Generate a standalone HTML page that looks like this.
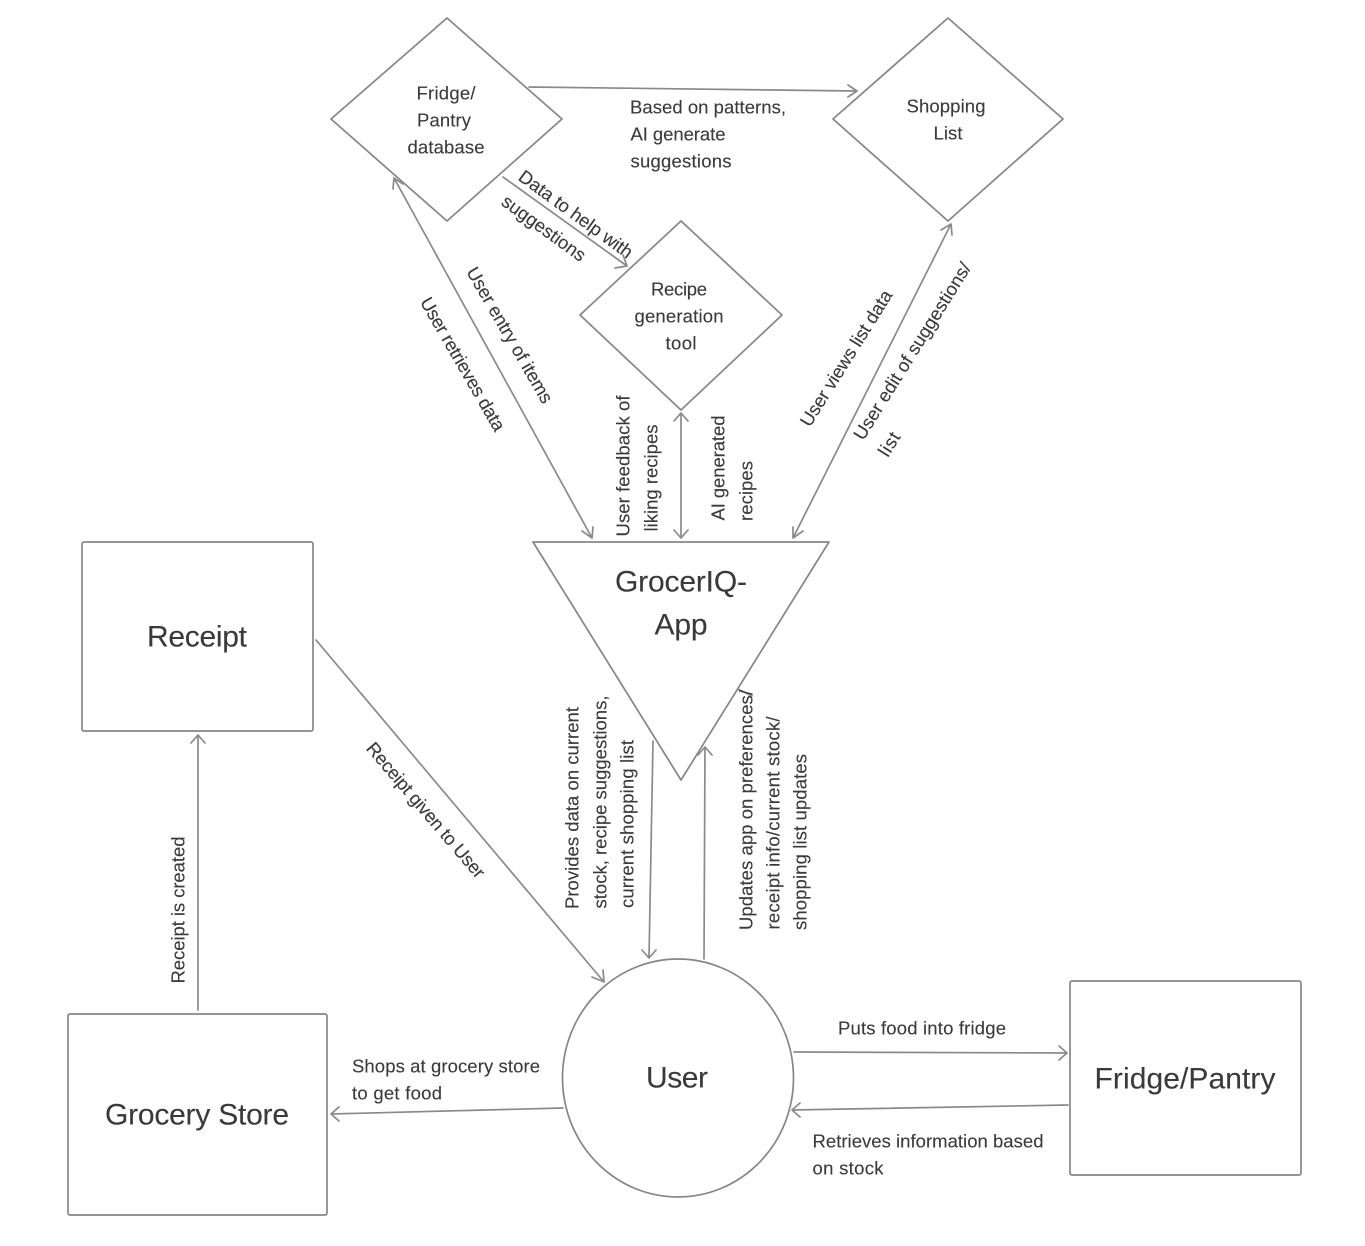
<!DOCTYPE html>
<html>
<head>
<meta charset="utf-8">
<style>
html,body{margin:0;padding:0;background:#fff;width:1365px;height:1246px;overflow:hidden}
svg{display:block}
text{font-family:"Liberation Sans",sans-serif;fill:#3a3a3a;text-anchor:middle;dominant-baseline:central;font-size:18.500px;stroke:#3a3a3a;stroke-width:.12px}
.b{font-size:30px}
.sh{fill:#fff;stroke:#868686;stroke-width:1.700;stroke-linejoin:round}
.l{fill:none;stroke:#8a8a8a;stroke-width:1.700;stroke-linecap:round;stroke-linejoin:round}
</style>
</head>
<body>
<svg width="1365" height="1246" viewBox="0 0 1365 1246" xmlns="http://www.w3.org/2000/svg">
<!-- shapes -->
<polygon class="sh" points="447,18 562,119 447,221 331,119"/>
<polygon class="sh" points="948,18 1063,119 948,221 833,119"/>
<polygon class="sh" points="681,221 782,315 681,410 580,315"/>
<polygon class="sh" points="533,542 829,542 681,780"/>
<rect class="sh" x="82" y="542" width="231" height="189" rx="2"/>
<rect class="sh" x="68" y="1014" width="259" height="201" rx="2"/>
<rect class="sh" x="1070" y="981" width="231" height="194" rx="2"/>
<ellipse class="sh" cx="678" cy="1078" rx="115.500" ry="119"/>

<!-- connectors -->
<path class="l" d="M529,87 L857,91 M848,85 L857,91 L848,97"/>
<path class="l" d="M503,177 L627,266 M615,268 L627,266 L623,255"/>
<path class="l" d="M394,178 L592,538 M394,178 L393,189 M394,178 L403,184 M592,538 L582,531 M592,538 L593,527"/>
<path class="l" d="M951,224 L793,538 M951,224 L941,230 M951,224 L952,235 M793,538 L793,527 M793,538 L803,531"/>
<path class="l" d="M681,413 L681,538 M674,421 L681,413 L688,421 M674,530 L681,538 L688,530"/>
<path class="l" d="M653,741 L649,958 M642,950 L649,958 L656,950"/>
<path class="l" d="M704,959 L705,747 M698,755 L705,747 L712,755"/>
<path class="l" d="M316,640 L604,982 M592,977 L604,982 L603,970"/>
<path class="l" d="M198,1010 L198,735 M191,743 L198,735 L205,743"/>
<path class="l" d="M563,1108 L331,1114 M339,1107 L331,1114 L339,1121"/>
<path class="l" d="M794,1052 L1067,1053 M1059,1046 L1067,1053 L1059,1060"/>
<path class="l" d="M1068,1105 L792,1110 M800,1103 L792,1110 L800,1117"/>
<path class="l" d="M738,689 L752,696"/>

<!-- node labels -->
<text x="446" y="93" textLength="59">Fridge/</text>
<text x="444" y="120" textLength="54">Pantry</text>
<text x="446" y="147" textLength="77">database</text>
<text x="946" y="106" textLength="79">Shopping</text>
<text x="948" y="133" textLength="29">List</text>
<text x="679" y="289" textLength="56">Recipe</text>
<text x="679" y="316" textLength="89">generation</text>
<text x="681" y="343" textLength="31">tool</text>
<text class="b" x="681" y="582" textLength="132">GrocerIQ-</text>
<text class="b" x="681" y="625" textLength="53">App</text>
<text class="b" x="197" y="637" textLength="100">Receipt</text>
<text class="b" x="197" y="1115" textLength="184">Grocery Store</text>
<text class="b" x="677" y="1078" textLength="62">User</text>
<text class="b" x="1185" y="1079" textLength="181">Fridge/Pantry</text>

<!-- horizontal connector labels -->
<text x="708" y="107" textLength="156">Based on patterns,</text>
<text x="678" y="134" textLength="95">AI generate</text>
<text x="681" y="161" textLength="101">suggestions</text>
<text x="446" y="1066" textLength="188">Shops at grocery store</text>
<text x="397" y="1093" textLength="90">to get food</text>
<text x="922" y="1028" textLength="168">Puts food into fridge</text>
<text x="928" y="1141" textLength="231">Retrieves information based</text>
<text x="848" y="1168" textLength="71">on stock</text>

<!-- rotated labels -->
<text transform="translate(576,214) rotate(36)" textLength="136">Data to help with</text>
<text transform="translate(544,228) rotate(36)" textLength="99">suggestions</text>
<text transform="translate(510,335) rotate(60)" textLength="154">User entry of items</text>
<text transform="translate(463,364) rotate(60)" textLength="151">User retrieves data</text>
<text transform="translate(846,358) rotate(-58)" textLength="157">User views list data</text>
<text transform="translate(912,351) rotate(-58)" textLength="205">User edit of suggestions/</text>
<text transform="translate(889,444) rotate(-58)" textLength="25">list</text>
<text transform="translate(623,466) rotate(-90)" textLength="141">User feedback of</text>
<text transform="translate(651,478) rotate(-90)" textLength="107">liking recipes</text>
<text transform="translate(718,468) rotate(-90)" textLength="105">AI generated</text>
<text transform="translate(746,491) rotate(-90)" textLength="60">recipes</text>
<text transform="translate(572,808) rotate(-90)" textLength="202">Provides data on current</text>
<text transform="translate(600,802) rotate(-90)" textLength="213">stock, recipe suggestions,</text>
<text transform="translate(627,824) rotate(-90)" textLength="168">current shopping list</text>
<text transform="translate(746,810) rotate(-90)" textLength="240">Updates app on preferences/</text>
<text transform="translate(773,823) rotate(-90)" textLength="213">receipt info/current stock/</text>
<text transform="translate(800,842) rotate(-90)" textLength="176">shopping list updates</text>
<text transform="translate(178,910) rotate(-90)" textLength="147">Receipt is created</text>
<text transform="translate(426,810) rotate(49.500)" textLength="172">Receipt given to User</text>
</svg>
</body>
</html>
